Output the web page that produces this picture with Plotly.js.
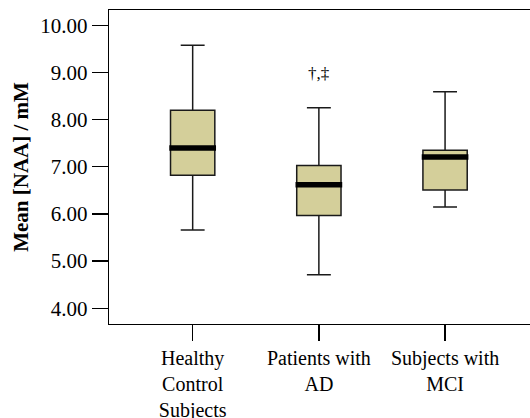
<!DOCTYPE html>
<html>
<head>
<meta charset="utf-8">
<script src="https://cdn.plot.ly/plotly-3.0.1.min.js"></script>
<style>html,body{margin:0;padding:0;background:#fff;}#chart{width:530px;height:418px;}</style>
</head>
<body>
<div id="chart"></div>
<script>
var categories = ["Healthy<br>Control<br>Subjects", "Patients with<br>AD", "Subjects with<br>MCI"];
var positions = [0, 1, 2];
var lowerWhisker = [5.66, 4.71, 6.15];
var q1Values = [6.82, 5.97, 6.51];
var medianValues = [7.40, 6.62, 7.21];
var q3Values = [8.20, 7.03, 7.35];
var upperWhisker = [9.58, 8.25, 8.59];
var yTickVals = [4, 5, 6, 7, 8, 9, 10];
var yTickText = ["4.00", "5.00", "6.00", "7.00", "8.00", "9.00", "10.00"];
var annotationText = "\u2020,\u2021";
var annotationCategory = 1;
var annotationY = 8.97;

var fontFam = "Liberation Serif";
var boxW = 0.351;
var medW = 0.37;

var traces = [{
  type: "box",
  x: positions,
  q1: q1Values,
  median: medianValues,
  q3: q3Values,
  lowerfence: lowerWhisker,
  upperfence: upperWhisker,
  width: boxW,
  whiskerwidth: 0.54,
  fillcolor: "#d4cf9a",
  line: {color: "#1a1a1a", width: 1.5},
  boxpoints: false,
  showlegend: false
}];
var shapes = positions.map(function (p, i) {
  return {type: "line", xref: "x", yref: "y",
    x0: p - medW / 2, x1: p + medW / 2, y0: medianValues[i], y1: medianValues[i],
    line: {color: "#000", width: 5.5}};
});
var layout = {
  width: 530, height: 418,
  margin: {l: 109, r: 0, t: 10, b: 94},
  font: {family: fontFam, color: "#000", size: 20},
  showlegend: false,
  shapes: shapes,
  xaxis: {
    range: [-0.663, 2.673],
    tickvals: positions,
    ticktext: categories,
    ticks: "outside", ticklen: 16, tickwidth: 1.3, tickcolor: "#000",
    showline: true, linecolor: "#000", linewidth: 1.3, mirror: true,
    showgrid: false, zeroline: false,
    tickfont: {family: fontFam, size: 20}
  },
  yaxis: {
    range: [3.667, 10.325],
    tickvals: yTickVals,
    ticktext: yTickText,
    ticks: "outside", ticklen: 16, tickwidth: 1.3, tickcolor: "#000",
    showline: true, linecolor: "#000", linewidth: 1.3, mirror: false,
    showgrid: false, zeroline: false,
    tickfont: {family: fontFam, size: 21},
    title: {text: "<b>Mean [NAA] / mM</b>", font: {family: fontFam, size: 21}, standoff: 6}
  },
  annotations: [{
    x: positions[annotationCategory], y: annotationY, xref: "x", yref: "y",
    text: annotationText, showarrow: false,
    font: {family: fontFam, size: 17}
  }]
};
Plotly.newPlot("chart", traces, layout, {staticPlot: true});
</script>
</body>
</html>
